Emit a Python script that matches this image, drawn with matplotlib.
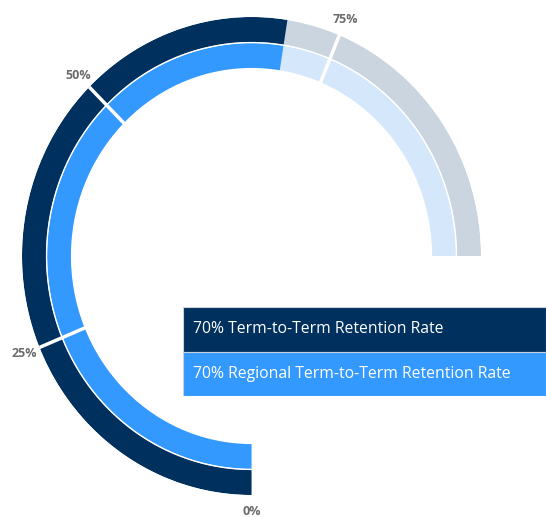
import numpy as np
import matplotlib.pyplot as plt

plt.rcParams['font.family'] = ['Open Sans', 'DejaVu Sans']

# data
series_names = ['Term-to-Term Retention Rate', 'Regional Term-to-Term Retention Rate']
series_values = [70, 70]
fill_colors = ['#00305e', '#3399ff']
track_colors = ['#cbd5df', '#d5e8fb']
tick_values = [0, 25, 50, 75]
tick_labels = ['0%', '25%', '50%', '75%']

max_value = 100
sweep = np.deg2rad(270)  # gauge covers three quarters of a circle

def to_theta(v):
    return v / max_value * sweep

# ring radii (outer ring first)
ring_bottom = [0.895, 0.787]
ring_height = [0.105, 0.104]

fig = plt.figure(figsize=(5.46, 5.17), dpi=100)
ax = fig.add_axes([22 / 546, 22 / 517, 459 / 546, 478 / 517], projection='polar')
ax.set_theta_zero_location('S')
ax.set_theta_direction(-1)
ax.set_aspect('auto')
ax.set_ylim(0, 1)

for i in range(len(series_values)):
    # grey track for the whole gauge
    ax.bar(0, ring_height[i], width=sweep, bottom=ring_bottom[i], align='edge',
           color=track_colors[i], edgecolor='none')
    # filled part
    ax.bar(0, ring_height[i], width=to_theta(series_values[i]), bottom=ring_bottom[i],
           align='edge', color=fill_colors[i], edgecolor='none')

# thin white gap between rings
t = np.linspace(0, sweep, 400)
ax.plot(t, np.full_like(t, ring_bottom[0] - 0.002), color='white', lw=1.0)

# quarter separators and labels
for v, lab in zip(tick_values, tick_labels):
    th = to_theta(v)
    if v > 0:
        ax.plot([th, th], [0.78, 1.005], color='white', lw=2.5, solid_capstyle='butt')
    ax.text(th, 1.07, lab, ha='center', va='center', fontsize=9, fontweight='bold',
            color='#6b6b6b')

ax.axis('off')

# legend boxes
lax = fig.add_axes([183 / 546, (517 - 396) / 517, (546 - 183) / 546, 89 / 517])
lax.barh([1, 0], [1, 1], height=1, left=0, color=fill_colors, edgecolor='#c8d0d8', lw=0.8)
for i, name in enumerate(series_names):
    lax.text(0.028, 1 - i, f'{series_values[i]}% {name}', ha='left', va='center',
             fontsize=11.3, color='white')
lax.set_xlim(0, 1)
lax.set_ylim(-0.5, 1.5)
lax.axis('off')

fig.savefig('out.png', dpi=100)
